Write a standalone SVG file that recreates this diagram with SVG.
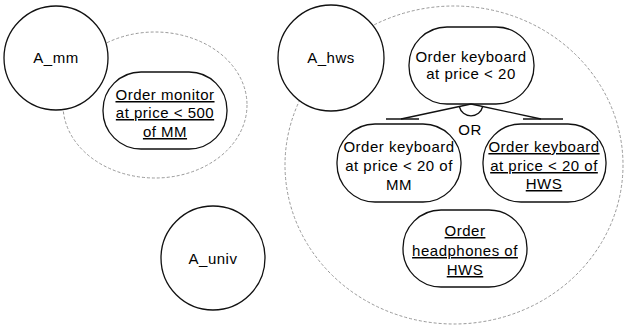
<svg xmlns="http://www.w3.org/2000/svg" width="626" height="326" viewBox="0 0 626 326">
<style>
text{font-family:"Liberation Sans",Arial,sans-serif;font-size:15px;letter-spacing:0.5px;fill:#000;text-anchor:middle}
.u{text-decoration:underline}
.agent{fill:#fff;stroke:#111;stroke-width:1.3}
.goal{fill:#fff;stroke:#111;stroke-width:1.3}
.scope{fill:none;stroke:#999;stroke-width:1;stroke-dasharray:3 2}
.conn{fill:none;stroke:#111;stroke-width:1.3}
</style>
<rect width="626" height="326" fill="#fff"/>
<g id="scope-mm"><ellipse class="scope" cx="155" cy="105" rx="92" ry="73"/></g>
<g id="scope-hws"><ellipse class="scope" cx="454" cy="165" rx="169" ry="159"/></g>
<g id="A_mm"><circle class="agent" cx="56" cy="58" r="52"/><text x="56" y="63">A_mm</text></g>
<g id="A_hws"><circle class="agent" cx="331" cy="58" r="53"/><text x="331" y="63">A_hws</text></g>
<g id="A_univ"><circle class="agent" cx="213" cy="258" r="52"/><text x="213" y="264">A_univ</text></g>
<g id="goal-monitor"><rect class="goal" x="103" y="72" width="124" height="77" rx="38" ry="38"/>
<text class="u" x="165" y="100">Order monitor</text><text class="u" x="165" y="118">at price &lt; 500</text><text class="u" x="165" y="137">of MM</text></g>
<g id="goal-keyboard"><rect class="goal" x="409" y="27" width="125" height="77" rx="38" ry="38"/>
<text x="471" y="62">Order keyboard</text><text x="471" y="79">at price &lt; 20</text></g>
<g id="goal-keyboard-mm"><rect class="goal" x="337" y="124" width="124" height="78" rx="38" ry="38"/>
<text x="399" y="152">Order keyboard</text><text x="399" y="171">at price &lt; 20 of</text><text x="399" y="190">MM</text></g>
<g id="goal-keyboard-hws"><rect class="goal" x="483" y="124" width="123" height="78" rx="38" ry="38"/>
<text class="u" x="544" y="152">Order keyboard</text><text class="u" x="544" y="171">at price &lt; 20 of</text><text class="u" x="544" y="189">HWS</text></g>
<g id="goal-headphones"><rect class="goal" x="403" y="210" width="124" height="77" rx="38" ry="38"/>
<text class="u" x="465" y="236">Order</text><text class="u" x="465" y="256">headphones of</text><text class="u" x="465" y="275">HWS</text></g>
<g id="connectors">
<line class="conn" x1="471" y1="104" x2="401" y2="119"/>
<line class="conn" x1="471" y1="104" x2="541" y2="119"/>
<line class="conn" x1="386" y1="119" x2="419" y2="119"/>
<line class="conn" x1="523" y1="119" x2="563" y2="119"/>
<path class="conn" d="M459.3,106.5 A12,12 0 0 0 482.7,106.5"/>
<text x="470" y="135">OR</text>
</g>
</svg>
